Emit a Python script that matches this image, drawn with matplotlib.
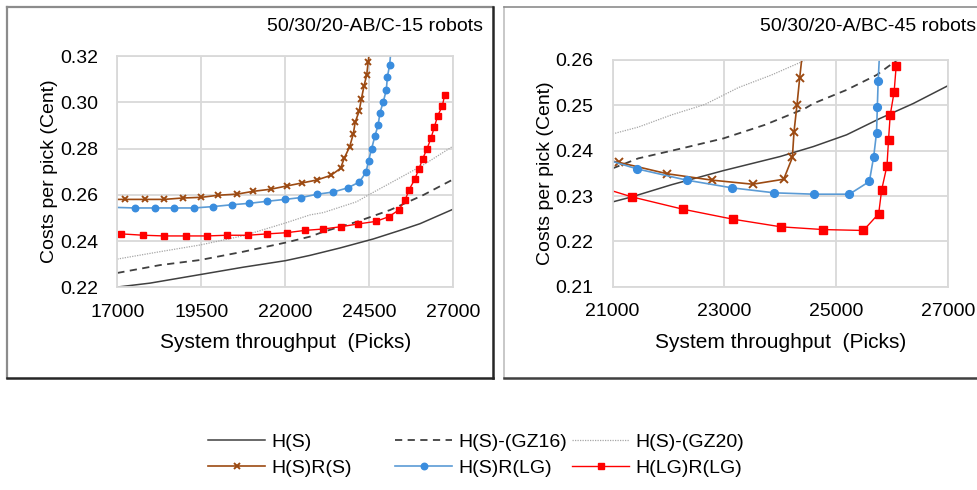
import matplotlib

matplotlib.use("Agg")
import matplotlib.pyplot as plt
from matplotlib.lines import Line2D

plt.rcParams["font.family"] = ["Liberation Sans", "DejaVu Sans"]

# ---- left panel: 50/30/20-AB/C-15 robots ----
left_hs_x = [17000, 17973, 19467, 20753, 22000, 22735, 23628, 24619, 25414, 26009, 27000]
left_hs_y = [0.2201, 0.2218, 0.2255, 0.2287, 0.2315, 0.2338, 0.2370, 0.2409, 0.2446, 0.2475, 0.2538]
left_gz16_x = [17000, 18271, 19467, 20753, 22000, 22735, 23131, 24125, 25116, 26108, 27000]
left_gz16_y = [0.2262, 0.2296, 0.2318, 0.2354, 0.2393, 0.2419, 0.2440, 0.2483, 0.2534, 0.2599, 0.2667]
left_gz20_x = [17000, 18271, 19467, 20753, 22000, 22735, 23131, 24125, 24521, 25116, 26108, 27000]
left_gz20_y = [0.2322, 0.2354, 0.2383, 0.2423, 0.2478, 0.2513, 0.2523, 0.2570, 0.2603, 0.2650, 0.2729, 0.2811]
left_hsrs_x = [16600, 17228, 17823, 18389, 18944, 19500, 20006, 20571, 21048, 21563, 22040, 22492,
               22943, 23355, 23642, 23756, 23915, 24024, 24079, 24198, 24262, 24342, 24422,
               24466, 24530]
left_hsrs_y = [0.2580, 0.2580, 0.2580, 0.2580, 0.2586, 0.2589, 0.2598, 0.2603, 0.2615, 0.2624, 0.2638, 0.2651,
               0.2664, 0.2684, 0.2714, 0.2759, 0.2808, 0.2864, 0.2914, 0.2962, 0.3013, 0.3071, 0.3118,
               0.3176, 0.3250]
left_hsrlg_x = [16800, 17516, 18131, 18687, 19282, 19857, 20413, 20929, 21464, 21990, 22467, 22934,
                23429, 23860, 24202, 24400, 24476, 24570, 24664, 24759, 24818, 24917, 25006, 25036,
                25105, 25160]
left_hsrlg_y = [0.2546, 0.2543, 0.2543, 0.2543, 0.2543, 0.2549, 0.2557, 0.2563, 0.2572, 0.2580, 0.2588,
                0.2602, 0.2612, 0.2630, 0.2655, 0.2697, 0.2747, 0.2800, 0.2853, 0.2900, 0.2955, 0.3003,
                0.3054, 0.3108, 0.3162, 0.3250]
left_hlgrlg_x = [17109, 17774, 18399, 19044, 19659, 20274, 20889, 21464, 22040, 22586, 23131, 23658,
                 24173, 24699, 25077, 25375, 25571, 25682, 25851, 25979, 26089, 26217, 26336, 26435,
                 26536, 26673, 26744]
left_hlgrlg_y = [0.2431, 0.2425, 0.2422, 0.2422, 0.2422, 0.2425, 0.2425, 0.2431, 0.2436, 0.2446, 0.2452,
                 0.2462, 0.2474, 0.2485, 0.2505, 0.2534, 0.2579, 0.2621, 0.2667, 0.2713, 0.2756, 0.2799,
                 0.2845, 0.2893, 0.2942, 0.2984, 0.3033]

# ---- right panel: 50/30/20-A/BC-45 robots ----
right_hs_x = [21000, 21340, 22057, 22982, 23997, 24593, 25190, 25787, 26384, 27000]
right_hs_y = [0.2287, 0.2298, 0.2325, 0.2356, 0.2387, 0.2409, 0.2435, 0.2471, 0.2504, 0.2543]
right_gz16_x = [21000, 21459, 22236, 22982, 23728, 24444, 24593, 25190, 25729, 26117, 26400]
right_gz16_y = [0.2361, 0.2383, 0.2405, 0.2427, 0.2457, 0.2493, 0.2504, 0.2534, 0.2567, 0.2602, 0.2625]
right_gz20_x = [21000, 21459, 22057, 22653, 23250, 23847, 24385, 24700]
right_gz20_y = [0.2437, 0.2452, 0.2479, 0.2502, 0.2539, 0.2567, 0.2596, 0.2615]
right_hsrs_x = [20300, 21119, 21979, 22779, 23507, 24063, 24218, 24248, 24301, 24349, 24420]
right_hsrs_y = [0.2392, 0.2374, 0.2349, 0.2335, 0.2326, 0.2337, 0.2385, 0.2442, 0.2501, 0.2560, 0.2640]
right_hsrlg_x = [20500, 21430, 22325, 23137, 23896, 24606, 25239, 25597, 25675, 25726, 25740, 25755,
                 25790]
right_hsrlg_y = [0.2395, 0.2360, 0.2335, 0.2318, 0.2307, 0.2304, 0.2304, 0.2332, 0.2387, 0.2440, 0.2497,
                 0.2554, 0.2640]
right_hlgrlg_x = [20500, 21346, 22254, 23149, 24015, 24770, 25490, 25764, 25818, 25913, 25940, 25970,
                  26041, 26077]
right_hlgrlg_y = [0.2330, 0.2298, 0.2271, 0.2249, 0.2232, 0.2226, 0.2224, 0.2261, 0.2314, 0.2367, 0.2423,
                  0.2478, 0.2530, 0.2586]

series_labels = ["H(S)", "H(S)-(GZ16)", "H(S)-(GZ20)", "H(S)R(S)", "H(S)R(LG)", "H(LG)R(LG)"]
panel_titles = ["50/30/20-AB/C-15 robots", "50/30/20-A/BC-45 robots"]
left_xticks = [17000, 19500, 22000, 24500, 27000]
left_yticks = [0.22, 0.24, 0.26, 0.28, 0.30, 0.32]
right_xticks = [21000, 23000, 25000, 27000]
right_yticks = [0.21, 0.22, 0.23, 0.24, 0.25, 0.26]

GRID = "#d9d9d9"
styles = [
    dict(color="#404040", lw=1.1, ls="-"),
    dict(color="#404040", lw=1.3, ls=(0, (4, 3))),
    dict(color="#a6a6a6", lw=0.9, ls=(0, (1, 1))),
    dict(color="#9c4a12", lw=1.2, marker="x", ms=5, mew=1.4),
    dict(color="#5b9bd5", lw=1.2, marker="o", ms=5.5, mfc="#3a8dde", mec="#3a8dde"),
    dict(color="#ff0000", lw=1.0, marker="s", ms=5.5),
]


def draw_panel(ax, data, xticks, yticks, msize):
    for (xs, ys), style, label in zip(data, styles, series_labels):
        st = dict(style)
        if "marker" in st:
            st["ms"] = st["ms"] * msize
        ax.plot(xs, ys, label=label, **st)
    ax.set_xlim(xticks[0], xticks[-1])
    ax.set_ylim(yticks[0], yticks[-1])
    ax.set_xticks(xticks)
    ax.set_yticks(yticks)
    ax.set_yticklabels([f"{v:.2f}" for v in yticks])
    ax.grid(True, color=GRID, lw=1.3)
    ax.set_axisbelow(True)
    for spine in ax.spines.values():
        spine.set_color(GRID)
        spine.set_linewidth(1.3)
    ax.tick_params(length=0, labelsize=14, pad=12)
    ax.tick_params(axis="y", pad=14)
    ax.set_xlabel("System throughput  (Picks)", fontsize=15, labelpad=9)
    ax.set_ylabel("Costs per pick (Cent)", fontsize=14, labelpad=1)


fig = plt.figure(figsize=(9.77, 4.90), dpi=100)
ax_left = fig.add_axes([0.1201, 0.4137, 0.3439, 0.4720])
ax_right = fig.add_axes([0.6271, 0.4149, 0.3429, 0.4627])

left_data = [(left_hs_x, left_hs_y), (left_gz16_x, left_gz16_y), (left_gz20_x, left_gz20_y),
             (left_hsrs_x, left_hsrs_y), (left_hsrlg_x, left_hsrlg_y), (left_hlgrlg_x, left_hlgrlg_y)]
right_data = [(right_hs_x, right_hs_y), (right_gz16_x, right_gz16_y), (right_gz20_x, right_gz20_y),
              (right_hsrs_x, right_hsrs_y), (right_hsrlg_x, right_hsrlg_y), (right_hlgrlg_x, right_hlgrlg_y)]

draw_panel(ax_left, left_data, left_xticks, left_yticks, 0.85)
draw_panel(ax_right, right_data, right_xticks, right_yticks, 1.02)

fig.text(0.494, 0.945, panel_titles[0], ha="right", va="center", fontsize=14)
fig.text(0.778, 0.945, panel_titles[1], ha="left", va="center", fontsize=14)

# panel frames (figure pixels -> fraction)
W, H = 977.0, 490.0


def fline(x0, y0, x1, y1, color, lw):
    fig.add_artist(Line2D([x0 / W, x1 / W], [1 - y0 / H, 1 - y1 / H],
                          color=color, lw=lw, transform=fig.transFigure))


fline(7, 7, 7, 378, "#8c8c8c", 1.6)
fline(7, 7, 493, 7, "#8c8c8c", 1.6)
fline(493, 7, 493, 378, "#262626", 1.8)
fline(7, 378, 493, 378, "#262626", 1.8)
fline(504, 7, 504, 378, "#bfbfbf", 1.2)
fline(504, 7, 977, 7, "#8c8c8c", 1.2)
fline(504, 378, 977, 378, "#404040", 1.8)

# legend: three columns of two rows, row-wise order as in the reference
handles, labels = ax_left.get_legend_handles_labels()
col_x = [208, 395, 572]
for col, x0 in enumerate(col_x):
    idx = [col, col + 3]
    fig.legend([handles[i] for i in idx], [labels[i] for i in idx], loc="upper left",
               bbox_to_anchor=(x0 / W, 1 - 433 / H), frameon=False, fontsize=14,
               borderpad=0, borderaxespad=0, handlelength=2.95, handletextpad=0.3,
               labelspacing=0.45)

fig.savefig("out.png", dpi=100)
